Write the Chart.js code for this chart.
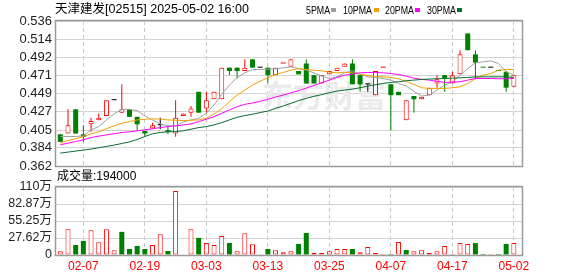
<!DOCTYPE html>
<html>
<head>
<meta charset="utf-8">
<script src="https://cdn.jsdelivr.net/npm/chart.js@4.4.1/dist/chart.umd.min.js"></script>
<style>
  html, body { margin: 0; padding: 0; background: #fff; }
  #wrap { position: relative; width: 578px; height: 276px; overflow: hidden;
    font-family: "Liberation Sans", Arial, "Noto Sans CJK SC", sans-serif; }
  #main { position: absolute; left: 0; top: 0; }
  #vol { position: absolute; left: 0; top: 166px; }
  .txt { position: absolute; white-space: nowrap; color: #000; line-height: 14px; }
  .leg { transform: scaleX(0.84); transform-origin: 0 0; }
  .key { position: absolute; width: 5px; height: 4px; }
</style>
</head>
<body>
<div id="wrap">
  <canvas id="main" width="578" height="180"></canvas>
  <canvas id="vol" width="578" height="110"></canvas>
  <div class="txt" style="left:55px;top:2px;font-size:12.5px;">天津建发[02515] 2025-05-02 16:00</div>
  <div id="legend"></div>
  <div class="txt" id="volTitle" style="left:57px;top:169px;font-size:12px;"></div>
</div>
<script>
// DATA
const dates = [
  "02-04", "02-05", "02-06", "02-07", "02-10", "02-11", "02-12", "02-13", "02-14", "02-17",
  "02-18", "02-19", "02-20", "02-21", "02-24", "02-25", "02-26", "02-27", "02-28", "03-03",
  "03-04", "03-05", "03-06", "03-07", "03-10", "03-11", "03-12", "03-13", "03-14", "03-17",
  "03-18", "03-19", "03-20", "03-21", "03-24", "03-25", "03-26", "03-27", "03-28", "03-31",
  "04-01", "04-02", "04-03", "04-07", "04-08", "04-09", "04-10", "04-11", "04-14", "04-15",
  "04-16", "04-17", "04-22", "04-23", "04-24", "04-25", "04-28", "04-29", "04-30", "05-02",
];
const tickDates = ["02-07", "02-19", "03-03", "03-13", "03-25", "04-07", "04-17", "05-02"];

const open = [
  0.400, 0.401, 0.430, 0.400, 0.412, 0.417, 0.422, 0.441, 0.426, 0.430,
  0.421, 0.404, 0.407, 0.411, 0.405, 0.401, 0.422, 0.426, 0.451, 0.431,
  0.442, 0.442, 0.480, 0.480, 0.476, 0.490, 0.480, 0.480, 0.471, 0.485,
  0.481, 0.476, 0.485, 0.471, 0.461, 0.472, 0.476, 0.481, 0.485, 0.471,
  0.460, 0.447, 0.480, 0.460, 0.451, 0.417, 0.446, 0.442, 0.447, 0.461,
  0.471, 0.461, 0.472, 0.521, 0.496, 0.480, 0.480, 0.476, 0.475, 0.457,
];
const high = [
  0.400, 0.430, 0.430, 0.411, 0.420, 0.425, 0.441, 0.441, 0.460, 0.430,
  0.421, 0.404, 0.414, 0.420, 0.411, 0.441, 0.425, 0.434, 0.451, 0.451,
  0.451, 0.480, 0.480, 0.480, 0.490, 0.490, 0.480, 0.480, 0.480, 0.485,
  0.490, 0.476, 0.490, 0.471, 0.471, 0.476, 0.480, 0.485, 0.490, 0.471,
  0.460, 0.476, 0.480, 0.460, 0.451, 0.441, 0.446, 0.445, 0.456, 0.471,
  0.471, 0.475, 0.501, 0.521, 0.501, 0.480, 0.480, 0.476, 0.476, 0.471,
];
const low = [
  0.391, 0.401, 0.401, 0.391, 0.403, 0.417, 0.422, 0.441, 0.426, 0.421,
  0.405, 0.397, 0.407, 0.406, 0.400, 0.397, 0.422, 0.421, 0.426, 0.426,
  0.442, 0.442, 0.471, 0.467, 0.476, 0.480, 0.480, 0.461, 0.471, 0.485,
  0.481, 0.472, 0.461, 0.461, 0.461, 0.472, 0.476, 0.481, 0.460, 0.451,
  0.451, 0.447, 0.480, 0.405, 0.447, 0.417, 0.426, 0.442, 0.447, 0.456,
  0.451, 0.461, 0.472, 0.501, 0.466, 0.480, 0.480, 0.476, 0.451, 0.457,
];
const close = [
  0.391, 0.411, 0.401, 0.397, 0.416, 0.420, 0.441, 0.441, 0.430, 0.421,
  0.412, 0.401, 0.411, 0.411, 0.403, 0.420, 0.425, 0.431, 0.426, 0.441,
  0.451, 0.480, 0.476, 0.476, 0.480, 0.480, 0.480, 0.471, 0.480, 0.485,
  0.490, 0.472, 0.461, 0.461, 0.471, 0.476, 0.480, 0.485, 0.460, 0.460,
  0.460, 0.476, 0.480, 0.447, 0.447, 0.441, 0.442, 0.445, 0.456, 0.466,
  0.467, 0.471, 0.496, 0.501, 0.486, 0.480, 0.480, 0.476, 0.456, 0.471,
];
// close of the session before the first bar
const prevClose = 0.390;

const volume = [
  60000, 419000, 163000, 229000, 403000, 207000, 419000, 76000, 376000, 98000,
  147000, 98000, 163000, 338000, 65000, 1040000, 0, 419000, 278000, 196000,
  163000, 310000, 196000, 60000, 354000, 174000, 11000, 98000, 76000, 44000,
  60000, 180000, 359000, 33000, 33000, 60000, 98000, 98000, 98000, 44000,
  130000, 33000, 16000, 16000, 212000, 82000, 60000, 76000, 33000, 60000,
  147000, 16000, 196000, 180000, 196000, 16000, 16000, 16000, 180000, 194000,
];

const ma5 = [
  0.3974, 0.3974, 0.3974, 0.3982, 0.4054, 0.4093, 0.4173, 0.4245, 0.4300, 0.4300,
  0.4284, 0.4221, 0.4173, 0.4125, 0.4101, 0.4101, 0.4149, 0.4173, 0.4193, 0.4253,
  0.4352, 0.4483, 0.4591, 0.4682, 0.4738, 0.4778, 0.4778, 0.4782, 0.4786, 0.4798,
  0.4810, 0.4790, 0.4770, 0.4738, 0.4698, 0.4670, 0.4690, 0.4738, 0.4762, 0.4722,
  0.4690, 0.4682, 0.4670, 0.4650, 0.4610, 0.4579, 0.4515, 0.4460, 0.4471, 0.4531,
  0.4591, 0.4630, 0.4710, 0.4790, 0.4858, 0.4870, 0.4881, 0.4850, 0.4750, 0.4710,
];
const ma10 = [
  0.3894, 0.3926, 0.3946, 0.3974, 0.4006, 0.4030, 0.4069, 0.4101, 0.4133, 0.4153,
  0.4173, 0.4181, 0.4185, 0.4185, 0.4173, 0.4169, 0.4165, 0.4169, 0.4173, 0.4193,
  0.4245, 0.4308, 0.4392, 0.4471, 0.4531, 0.4591, 0.4638, 0.4678, 0.4718, 0.4742,
  0.4770, 0.4786, 0.4778, 0.4770, 0.4762, 0.4746, 0.4738, 0.4746, 0.4738, 0.4722,
  0.4706, 0.4694, 0.4690, 0.4682, 0.4666, 0.4635, 0.4599, 0.4559, 0.4551, 0.4551,
  0.4551, 0.4559, 0.4571, 0.4610, 0.4670, 0.4710, 0.4730, 0.4770, 0.4778, 0.4778,
];
const ma20 = [
  0.3875, 0.3894, 0.3914, 0.3934, 0.3962, 0.3978, 0.3994, 0.4006, 0.4022, 0.4030,
  0.4042, 0.4054, 0.4066, 0.4081, 0.4093, 0.4101, 0.4113, 0.4125, 0.4153, 0.4181,
  0.4213, 0.4253, 0.4292, 0.4332, 0.4360, 0.4376, 0.4396, 0.4420, 0.4448, 0.4471,
  0.4499, 0.4523, 0.4555, 0.4587, 0.4619, 0.4651, 0.4682, 0.4710, 0.4722, 0.4738,
  0.4742, 0.4742, 0.4738, 0.4730, 0.4718, 0.4698, 0.4674, 0.4659, 0.4651, 0.4635,
  0.4623, 0.4627, 0.4631, 0.4651, 0.4670, 0.4670, 0.4670, 0.4667, 0.4667, 0.4670,
];
const ma30 = [
  0.3775, 0.3787, 0.3799, 0.3811, 0.3823, 0.3839, 0.3855, 0.3871, 0.3890, 0.3910,
  0.3938, 0.3974, 0.4006, 0.4022, 0.4030, 0.4034, 0.4042, 0.4062, 0.4081, 0.4093,
  0.4113, 0.4141, 0.4173, 0.4205, 0.4225, 0.4241, 0.4261, 0.4280, 0.4312, 0.4340,
  0.4372, 0.4404, 0.4432, 0.4456, 0.4476, 0.4499, 0.4519, 0.4531, 0.4543, 0.4559,
  0.4579, 0.4595, 0.4611, 0.4623, 0.4631, 0.4643, 0.4651, 0.4659, 0.4663, 0.4667,
  0.4670, 0.4674, 0.4678, 0.4682, 0.4690, 0.4690, 0.4690, 0.4690, 0.4690, 0.4682,
];

const priceTicks = [0.362, 0.384, 0.405, 0.427, 0.449, 0.471, 0.492, 0.514, 0.536];
const volTicks = [0, 276250, 552500, 828750, 1105000];
const volTickLabels = ["0", "27.62万", "55.25万", "82.87万", "110万"];

const maNames = ["5PMA", "10PMA", "20PMA", "30PMA"];
const maColors = ["#a0a0a0", "#f0a000", "#ff00ff", "#086b30"];

const RED = "#ff0000";
const GREEN = "#008000";
const X_MIN = -0.56;
const X_MAX = 60.06;

// COLOURS
function candleColor(i) {
  const prev = i === 0 ? prevClose : close[i - 1];
  if (close[i] > open[i]) return RED;
  if (close[i] < open[i]) return GREEN;
  if (close[i] > prev) return RED;
  if (close[i] < prev) return GREEN;
  return "#000000";
}
function volumeUp(i) {
  const prev = i === 0 ? prevClose : close[i - 1];
  return close[i] >= prev;
}

const tickIdx = tickDates.map((d) => dates.indexOf(d));
const candleColors = dates.map((d, i) => candleColor(i));
const bodyFill = dates.map((d, i) => (close[i] > open[i] ? "#ffffff" : candleColors[i]));
const bodyBorder = dates.map((d, i) => (close[i] > open[i] ? 1 : 0));

// LEGEND + VOLUME TITLE
const legendX = [306, 343, 385, 427];
const legendBox = [331, 374, 415, 457];
let legendHtml = "";
maNames.forEach((name, k) => {
  legendHtml += `<div class="txt leg" style="left:${legendX[k]}px;top:3px;font-size:10.5px;">${name}</div>`;
  legendHtml += `<div class="key" style="left:${legendBox[k]}px;top:8px;background:${maColors[k]};"></div>`;
});
document.getElementById("legend").innerHTML = legendHtml;
document.getElementById("volTitle").textContent = `成交量:${volume[volume.length - 1]}`;

// PLUGINS
const framePlugin = {
  id: "frame",
  afterDatasetsDraw(chart) {
    const { ctx, chartArea: a } = chart;
    ctx.save();
    ctx.strokeStyle = "#9a9a9a";
    ctx.lineWidth = 1.5;
    ctx.strokeRect(a.left - 0.5, a.top - 0.5, a.right - a.left + 1, a.bottom - a.top + 1);
    ctx.restore();
  },
};
const watermarkPlugin = {
  id: "watermark",
  beforeDatasetsDraw(chart) {
    const ctx = chart.ctx;
    ctx.save();
    ctx.fillStyle = "#ebebeb";
    ctx.font = "bold 31px 'Noto Sans CJK SC'";
    ctx.textBaseline = "alphabetic";
    ctx.fillText("东方财富", 262, 107);
    ctx.restore();
  },
};

function xScale(showLabels) {
  return {
    type: "linear",
    min: X_MIN,
    max: X_MAX,
    offset: false,
    afterBuildTicks: (s) => {
      s.ticks = tickIdx.map((v) => ({ value: v }));
    },
    afterFit: (s) => {
      s.height = showLabels ? 21 : 0;
    },
    grid: { color: "#c8c8c8", drawTicks: false, offset: false },
    border: { display: false, dash: [4, 3] },
    ticks: {
      display: showLabels,
      autoSkip: false,
      maxRotation: 0,
      padding: 4,
      color: RED,
      font: { size: 12, family: "'Liberation Sans', Arial" },
      callback: (v, i) => tickDates[i],
    },
  };
}

// PRICE CHART
const wickData = dates.map((d, i) => ({ x: i, y: [low[i], high[i]] }));
const bodyData = dates.map((d, i) => ({ x: i, y: [open[i], close[i]] }));
const maSets = [ma5, ma10, ma20, ma30].map((arr, k) => ({
  type: "line",
  label: maNames[k],
  data: arr.map((v, i) => ({ x: i, y: v })),
  borderColor: maColors[k],
  borderWidth: 1,
  pointRadius: 0,
  tension: 0,
  order: 3 - k,
}));

new Chart(document.getElementById("main"), {
  type: "bar",
  data: {
    datasets: [
      {
        label: "wick",
        data: wickData,
        backgroundColor: candleColors,
        borderWidth: 0,
        barThickness: 1,
        grouped: false,
        inflateAmount: 0,
        order: 11,
      },
      {
        label: "body",
        data: bodyData,
        backgroundColor: bodyFill,
        borderColor: candleColors,
        borderWidth: bodyBorder,
        borderSkipped: false,
        barThickness: 5,
        minBarLength: 1,
        grouped: false,
        inflateAmount: 0,
        order: 10,
      },
      ...maSets,
    ],
  },
  options: {
    responsive: false,
    animation: false,
    layout: { padding: { top: 21, right: 56, bottom: 14, left: 0 } },
    plugins: { legend: { display: false }, tooltip: { enabled: false } },
    scales: {
      x: xScale(false),
      y: {
        min: priceTicks[0],
        max: priceTicks[priceTicks.length - 1],
        afterBuildTicks: (s) => {
          s.ticks = priceTicks.map((v) => ({ value: v }));
        },
        afterFit: (s) => {
          s.width = 56;
        },
        grid: { color: "#d4d4d4", drawTicks: false },
        border: { display: false },
        ticks: {
          autoSkip: false,
          padding: 4,
          color: "#222",
          font: { size: 13, family: "'Liberation Sans', Arial" },
          callback: (v, i) => priceTicks[i].toFixed(3),
        },
      },
    },
  },
  plugins: [watermarkPlugin, framePlugin],
});

// VOLUME CHART
const volData = volume.map((v, i) => ({ x: i, y: v }));
const volColors = volume.map((v, i) => (volumeUp(i) ? RED : GREEN));
const volFill = volume.map((v, i) => (volumeUp(i) ? "#ffffff" : GREEN));
const volBorder = volume.map((v, i) => (volumeUp(i) ? 1 : 0));

new Chart(document.getElementById("vol"), {
  type: "bar",
  data: {
    datasets: [
      {
        label: "volume",
        data: volData,
        backgroundColor: volFill,
        borderColor: volColors,
        borderWidth: volBorder,
        borderSkipped: false,
        barThickness: 5,
        grouped: false,
        inflateAmount: 0,
      },
    ],
  },
  options: {
    responsive: false,
    animation: false,
    layout: { padding: { top: 21, right: 56, bottom: 0, left: 0 } },
    plugins: { legend: { display: false }, tooltip: { enabled: false } },
    scales: {
      x: xScale(true),
      y: {
        min: 0,
        max: volTicks[volTicks.length - 1],
        afterBuildTicks: (s) => {
          s.ticks = volTicks.map((v) => ({ value: v }));
        },
        afterFit: (s) => {
          s.width = 56;
        },
        grid: { color: "#d4d4d4", drawTicks: false },
        border: { display: false },
        ticks: {
          autoSkip: false,
          padding: 4,
          color: "#222",
          font: { size: 12.5, family: "'Liberation Sans', Arial, 'Noto Sans CJK SC'" },
          callback: (v, i) => volTickLabels[i],
        },
      },
    },
  },
  plugins: [framePlugin],
});
</script>
</body>
</html>
